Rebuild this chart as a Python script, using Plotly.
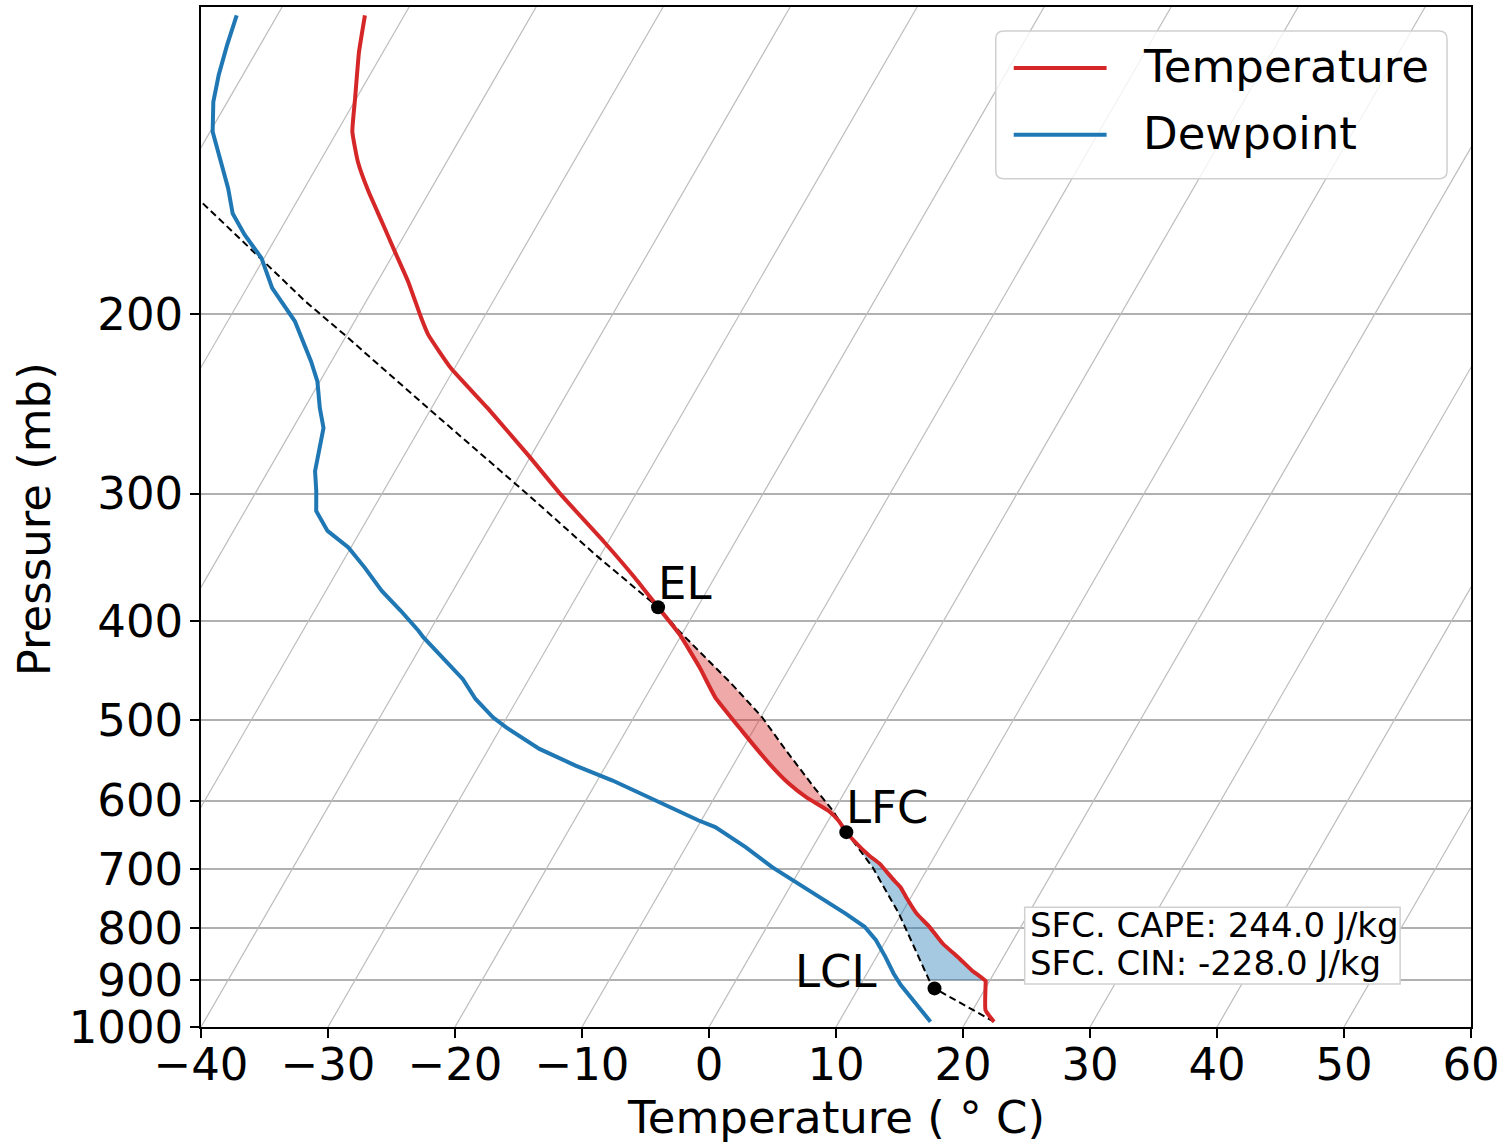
import numpy as np
import plotly.graph_objects as go

# ---------------- data (pressure in mb, temperature in deg C) ----------------
temp_p = [988.1, 962.4, 906.3, 901.6, 879.7, 856.7, 828.2, 797.6, 774.2, 745.6,
          729.1, 715.4, 691.6, 678.9, 653.8, 644.1, 627.4, 614.1, 595.3, 577.6,
          552.1, 512.2, 475.1, 444.0, 411.9, 387.7, 362.5, 334.0,
          300.5, 274.7, 247.2, 225.9, 209.5, 201.8, 185.8, 173.7, 162.3, 151.7,
          141.8, 132.5, 122.9, 110.7, 101.9]
temp_t = [22.2, 21.0, 19.8, 19.7, 18.1, 16.6, 14.6, 12.8, 11.2, 9.6,
          8.7, 7.7, 6.0, 4.8, 2.7, 1.95, 0.8, -0.4, -2.8, -4.75,
          -7.2, -10.9, -14.5, -17.1, -20.2, -23.1, -26.3, -30.4,
          -35.9, -40.3, -45.6, -50.3, -53.6, -54.9, -57.6, -60.0, -62.4, -64.8,
          -67.0, -68.8, -70.1, -71.9, -73.1]

dew_p = [988.1, 948.0, 909.8, 886.2, 853.6, 822.0, 797.6, 774.2, 745.6, 720.9,
         697.0, 666.2, 636.8, 627.4, 606.5, 599.6, 573.3, 554.2, 533.8,
         508.4, 497.0, 476.9, 456.0, 415.0, 408.8, 390.8, 373.6, 354.5, 338.8,
         326.3, 311.9, 298.2, 285.1, 258.6, 247.2, 232.8, 222.6, 203.3, 188.6,
         176.3, 167.2, 159.4, 150.6, 140.8, 132.5, 123.9, 116.6, 109.0, 101.9]
dew_t = [17.2, 15.2, 13.2, 12.1, 10.7, 9.2, 7.7, 5.6, 2.8, 0.2,
         -2.3, -5.3, -8.6, -10.2, -13.5, -14.5, -18.8, -22.4, -26.0,
         -29.6, -31.1, -33.3, -35.2, -40.2, -40.9, -43.2, -45.6, -48.0, -50.2,
         -52.6, -54.4, -55.3, -56.3, -57.6, -58.8, -60.2, -61.6, -64.7, -68.0,
         -70.2, -72.6, -74.5, -76.0, -78.0, -79.8, -81.1, -81.9, -82.6, -83.2]

parcel_p = [988.1, 916.5, 899.6, 774.2, 697.0, 656.2, 644.1, 613.4, 583.7, 535.8,
            497.0, 461.1, 434.1, 408.8, 387.7, 343.9, 300.5, 247.2, 209.5, 194.3,
            176.9, 155.2, 138.7]
parcel_t = [22.2, 16.0, 15.2, 9.8, 5.6, 2.8, 1.95, -0.1, -2.5, -6.5,
            -9.9, -13.8, -17.1, -20.4, -23.1, -30.5, -38.5, -50.3, -60.2, -64.8,
            -70.1, -77.5, -83.9]

levels = {"LCL": (916.5, 16.0), "LFC": (644.1, 1.95), "EL": (387.7, -23.1)}
cin_bottom_p = 900.0
cape_value = 244.0
cin_value = -228.0

x_ticks = list(range(-40, 61, 10))
p_ticks = [200, 300, 400, 500, 600, 700, 800, 900, 1000]
isotherms = list(range(-100, 61, 10))

# ---------------- geometry ----------------
W, H = 1505, 1145
ML, MR, MT, MB = 201, 32, 5, 118
PW, PH = W - ML - MR, H - MT - MB
P_BOT, P_TOP = 1000.0, 100.0
X_MIN, X_MAX = -40, 60
# 30 degree skew in display space, expressed in degC per decade of pressure
SKEW = np.tan(np.radians(30)) * (PH / np.log10(P_BOT / P_TOP)) / (PW / (X_MAX - X_MIN))


def skew_x(t, p):
    return np.asarray(t, float) + SKEW * np.log10(P_BOT / np.asarray(p, float))


FONT = "DejaVu Sans"
RED = "#d62728"
BLUE = "#1f77b4"
FS = 45

fig = go.Figure()

# isotherms
for t in isotherms:
    pp = [P_BOT, P_TOP]
    fig.add_trace(go.Scatter(x=skew_x([t, t], pp), y=pp, mode="lines",
                             line=dict(color="#bdbdbd", width=1.2),
                             hoverinfo="skip", showlegend=False))

tp = np.array(temp_p); tt = np.array(temp_t)
pp_ = np.array(parcel_p); pt = np.array(parcel_t)
lfc_p = levels["LFC"][0]; el_p = levels["EL"][0]

# CAPE shading (between LFC and EL)
m1 = (tp <= lfc_p + 1e-6) & (tp >= el_p - 1e-6)
m2 = (pp_ <= lfc_p + 1e-6) & (pp_ >= el_p - 1e-6)
cape_p = np.concatenate([tp[m1], pp_[m2][::-1]])
cape_t = np.concatenate([tt[m1], pt[m2][::-1]])
fig.add_trace(go.Scatter(x=skew_x(cape_t, cape_p), y=cape_p, mode="lines",
                         fill="toself", fillcolor="rgba(214,39,40,0.4)",
                         line=dict(width=0), hoverinfo="skip", showlegend=False))

# CIN shading (between 900 mb and LFC)
def interp_at(p_arr, t_arr, p0):
    lp = np.log(p_arr[::-1]); tv = t_arr[::-1]
    return float(np.interp(np.log(p0), lp, tv))

t900 = interp_at(tp, tt, cin_bottom_p)
pa900 = interp_at(pp_, pt, cin_bottom_p)
m3 = (tp < cin_bottom_p) & (tp >= lfc_p - 1e-6)
m4 = (pp_ < cin_bottom_p) & (pp_ >= lfc_p - 1e-6)
cin_p = np.concatenate([[cin_bottom_p], tp[m3], pp_[m4][::-1], [cin_bottom_p]])
cin_t = np.concatenate([[t900], tt[m3], pt[m4][::-1], [pa900]])
fig.add_trace(go.Scatter(x=skew_x(cin_t, cin_p), y=cin_p, mode="lines",
                         fill="toself", fillcolor="rgba(31,119,180,0.4)",
                         line=dict(width=0), hoverinfo="skip", showlegend=False))

# parcel profile
fig.add_trace(go.Scatter(x=skew_x(parcel_t, parcel_p), y=parcel_p, mode="lines",
                         line=dict(color="black", width=2, dash="7px,4px"),
                         showlegend=False))
# temperature & dewpoint
fig.add_trace(go.Scatter(x=skew_x(temp_t, temp_p), y=temp_p, mode="lines",
                         line=dict(color=RED, width=4, shape="spline", smoothing=0.4),
                         name="Temperature", showlegend=False))
fig.add_trace(go.Scatter(x=skew_x(dew_t, dew_p), y=dew_p, mode="lines",
                         line=dict(color=BLUE, width=4), name="Dewpoint",
                         showlegend=False))

# level markers
lv_names = list(levels.keys())
lv_p = [levels[k][0] for k in lv_names]
lv_t = [levels[k][1] for k in lv_names]
fig.add_trace(go.Scatter(x=skew_x(lv_t, lv_p), y=lv_p, mode="markers",
                         marker=dict(color="black", size=14), showlegend=False))

label_shift = {"EL": (27, 24), "LFC": (41, 25), "LCL": (-99, 17)}
for name, p0, t0 in zip(lv_names, lv_p, lv_t):
    dx, dy = label_shift[name]
    fig.add_annotation(x=float(skew_x(t0, p0)), y=np.log10(p0), text=name,
                       showarrow=False, xanchor="center", yanchor="middle",
                       xshift=dx, yshift=dy, font=dict(family=FONT, size=FS, color="black"))


def px2paper(x, y):
    return (x - ML) / PW, (MT + PH - y) / PH


shapes = []
# legend box (rounded)
lx0, ly0, lx1, ly1, r = 997, 29, 1449, 177, 8
def pt_(x, y):
    a, b = px2paper(x, y)
    return f"{a:.5f},{b:.5f}"
path = (f"M{pt_(lx0 + r, ly0)} L{pt_(lx1 - r, ly0)} Q{pt_(lx1, ly0)} {pt_(lx1, ly0 + r)} "
        f"L{pt_(lx1, ly1 - r)} Q{pt_(lx1, ly1)} {pt_(lx1 - r, ly1)} "
        f"L{pt_(lx0 + r, ly1)} Q{pt_(lx0, ly1)} {pt_(lx0, ly1 - r)} "
        f"L{pt_(lx0, ly0 + r)} Q{pt_(lx0, ly0)} {pt_(lx0 + r, ly0)} Z")
shapes.append(dict(type="path", xref="paper", yref="paper", path=path,
                   fillcolor="rgba(255,255,255,0.8)", line=dict(color="#d0d0d0", width=1.5)))
for yy, col in [(66, RED), (133, BLUE)]:
    a0, b0 = px2paper(1015, yy)
    a1, _ = px2paper(1108, yy)
    shapes.append(dict(type="line", xref="paper", yref="paper", x0=a0, x1=a1, y0=b0, y1=b0,
                       line=dict(color=col, width=4)))
for yy, txt in [(65, "Temperature"), (132, "Dewpoint")]:
    a, b = px2paper(1142, yy)
    fig.add_annotation(x=a, y=b, xref="paper", yref="paper", text=txt, showarrow=False,
                       xanchor="left", yanchor="middle", font=dict(family=FONT, size=FS, color="black"))

# CAPE/CIN box
bx0, by0, bx1, by1 = 1026, 907, 1402, 984
a0, b0 = px2paper(bx0, by0); a1, b1 = px2paper(bx1, by1)
shapes.append(dict(type="rect", xref="paper", yref="paper", x0=a0, x1=a1, y0=b1, y1=b0,
                   fillcolor="white", line=dict(color="#d0d0d0", width=1.5)))
for yy, txt in [(925, f"SFC. CAPE: {cape_value:.1f} J/kg"), (963, f"SFC. CIN: {cin_value:.1f} J/kg")]:
    a, b = px2paper(1029, yy)
    fig.add_annotation(x=a, y=b, xref="paper", yref="paper", text=txt, showarrow=False,
                       xanchor="left", yanchor="middle", font=dict(family=FONT, size=34, color="black"))

# axis titles
a, b = px2paper(837, 1118)
fig.add_annotation(x=a, y=b, xref="paper", yref="paper", text="Temperature ( ° C)",
                   showarrow=False, xanchor="center", yanchor="middle",
                   font=dict(family=FONT, size=FS, color="black"))
a, b = px2paper(35, 518)
fig.add_annotation(x=a, y=b, xref="paper", yref="paper", text="Pressure (mb)", textangle=-90,
                   showarrow=False, xanchor="center", yanchor="middle",
                   font=dict(family=FONT, size=FS, color="black"))

fig.update_layout(
    width=W, height=H, margin=dict(l=ML, r=MR, t=MT, b=MB),
    paper_bgcolor="white", plot_bgcolor="white", shapes=shapes,
    font=dict(family=FONT, size=FS, color="black"), showlegend=False,
    xaxis=dict(range=[X_MIN, X_MAX], tickvals=x_ticks, ticks="outside", ticklen=9,
               tickwidth=1.5, tickcolor="black", showgrid=False, zeroline=False,
               showline=True, linecolor="black", linewidth=1.5, mirror=True,
               ticklabelstandoff=-12,
               tickfont=dict(family=FONT, size=FS, color="black")),
    yaxis=dict(type="log", range=[np.log10(P_BOT), np.log10(P_TOP)], tickvals=p_ticks,
               ticktext=[str(v) for v in p_ticks], ticks="outside", ticklen=9,
               tickwidth=1.5, tickcolor="black", showgrid=True, gridcolor="#b0b0b0",
               gridwidth=1.5, zeroline=False, showline=True, linecolor="black",
               linewidth=1.5, mirror=True, ticklabelstandoff=-2,
               tickfont=dict(family=FONT, size=FS, color="black")),
)

fig.write_html("out.html", config={"displayModeBar": False},
               post_script="document.body.style.margin='0';document.body.style.overflow='hidden';")
